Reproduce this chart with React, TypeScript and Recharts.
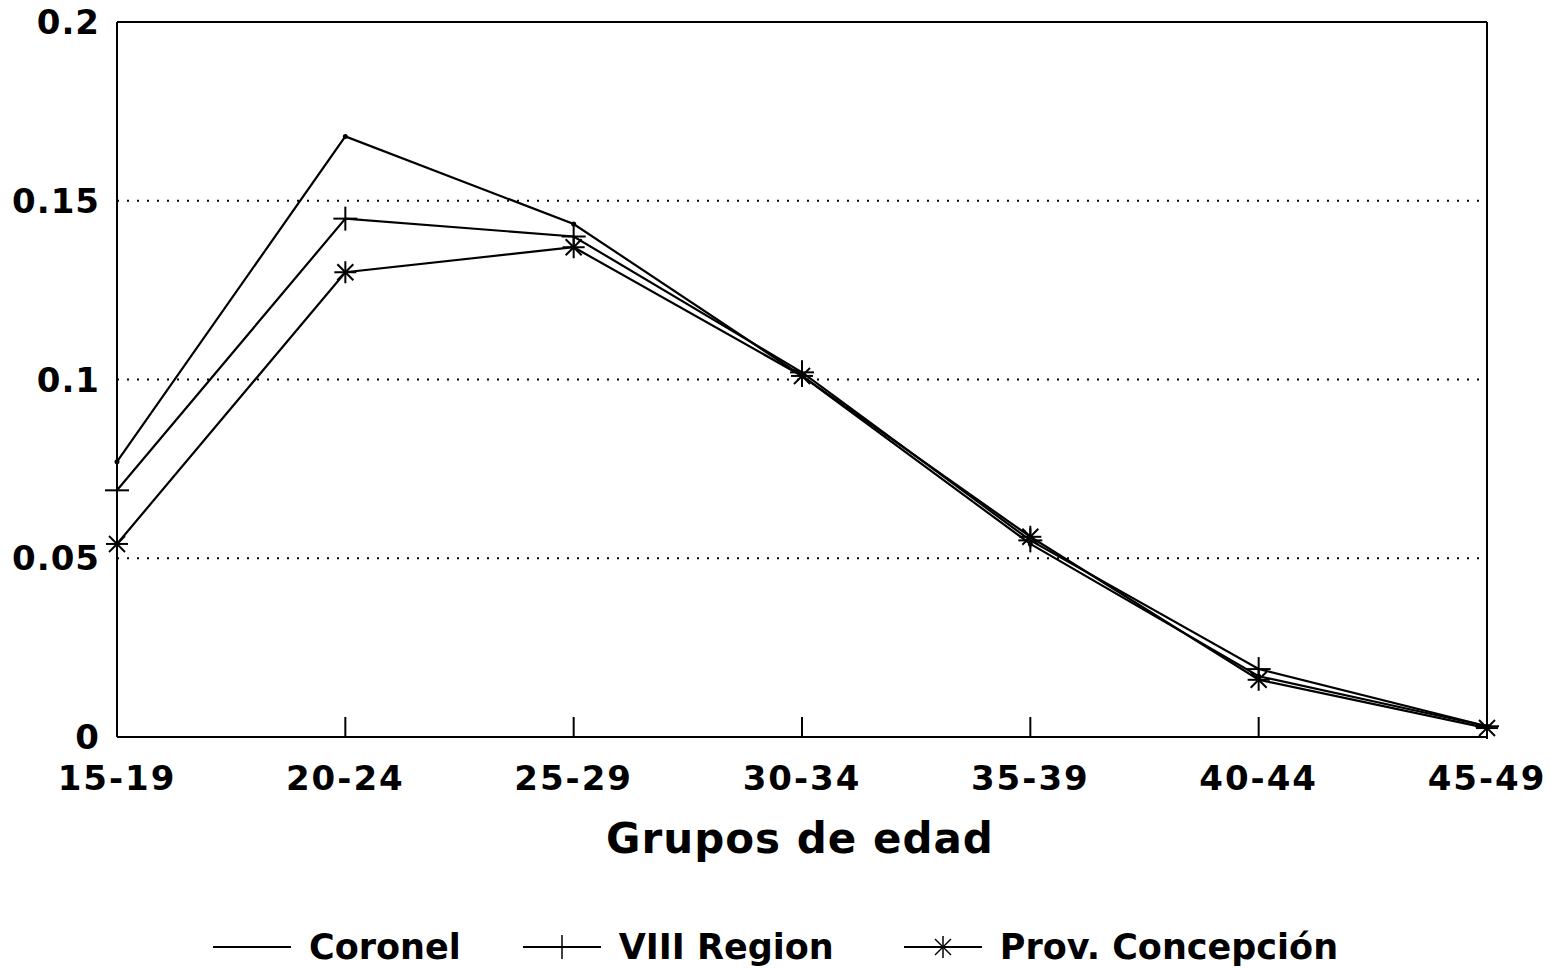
import React from 'react';
import { LineChart, Line, XAxis, YAxis, CartesianGrid, ReferenceLine } from 'recharts';

const categories = ['15-19', '20-24', '25-29', '30-34', '35-39', '40-44', '45-49'];
const coronel = [0.077, 0.168, 0.1435, 0.101, 0.054, 0.017, 0.003];
const viiiRegion = [0.069, 0.145, 0.14, 0.102, 0.055, 0.019, 0.003];
const provConcepcion = [0.054, 0.13, 0.137, 0.101, 0.056, 0.016, 0.0025];
const yTicks = [0, 0.05, 0.1, 0.15, 0.2];

const data = categories.map((name, i) => ({
  name,
  coronel: coronel[i],
  viii: viiiRegion[i],
  prov: provConcepcion[i],
}));

const FONT = '"DejaVu Sans", sans-serif';
const PLOT_BOTTOM = 737;

const XTick = (props: any) => {
  const { x, payload } = props;
  return (
    <g>
      <line x1={x} x2={x} y1={PLOT_BOTTOM} y2={PLOT_BOTTOM - 20} stroke="#000" strokeWidth={2} />
      <text x={x} y={790} textAnchor="middle" fontFamily={FONT} fontWeight="bold" fontSize={34} letterSpacing={2} fill="#000">
        {payload.value}
      </text>
    </g>
  );
};

const YTick = (props: any) => {
  const { y, payload } = props;
  return (
    <text x={100} y={y + 12} textAnchor="end" fontFamily={FONT} fontWeight="bold" fontSize={34} letterSpacing={1} fill="#000">
      {String(payload.value)}
    </text>
  );
};

const PlainDot = (props: any) => {
  const { cx, cy } = props;
  return <circle key={`c-${cx}`} cx={cx} cy={cy} r={2.5} fill="#000" />;
};

const PlusDot = (props: any) => {
  const { cx, cy } = props;
  return (
    <g key={`p-${cx}`}>
      <line x1={cx - 12} x2={cx + 12} y1={cy} y2={cy} stroke="#000" strokeWidth={2} />
      <line x1={cx} x2={cx} y1={cy - 12} y2={cy + 12} stroke="#000" strokeWidth={2} />
    </g>
  );
};

const StarDot = (props: any) => {
  const { cx, cy } = props;
  return (
    <g key={`s-${cx}`}>
      <line x1={cx - 11} x2={cx + 11} y1={cy} y2={cy} stroke="#000" strokeWidth={2} />
      <line x1={cx} x2={cx} y1={cy - 11} y2={cy + 11} stroke="#000" strokeWidth={2} />
      <line x1={cx - 8} x2={cx + 8} y1={cy - 8} y2={cy + 8} stroke="#000" strokeWidth={2} />
      <line x1={cx - 8} x2={cx + 8} y1={cy + 8} y2={cy - 8} stroke="#000" strokeWidth={2} />
    </g>
  );
};

const LegendItem = ({ label, marker, gap }: { label: string; marker: string; gap: number }) => (
  <div style={{ display: 'flex', alignItems: 'center', marginRight: gap }}>
    <svg width={80} height={30}>
      <line x1={0} x2={78} y1={15} y2={15} stroke="#000" strokeWidth={2} />
      {marker === 'plus' && <line x1={39} x2={39} y1={3} y2={27} stroke="#000" strokeWidth={1.5} />}
      {marker === 'star' && (
        <g stroke="#000" strokeWidth={1.5}>
          <line x1={39} x2={39} y1={4} y2={26} />
          <line x1={31} x2={47} y1={7} y2={23} />
          <line x1={31} x2={47} y1={23} y2={7} />
        </g>
      )}
    </svg>
    <span style={{ marginLeft: 16, fontFamily: FONT, fontWeight: 'bold', fontSize: 35 }}>{label}</span>
  </div>
);

export default function App() {
  return (
    <div style={{ position: 'absolute', left: 0, top: 0, width: 1551, height: 969, background: '#fff' }}>
      <LineChart
        width={1551}
        height={969}
        data={data}
        margin={{ top: 22, right: 64, bottom: 172, left: 0 }}
      >
        <CartesianGrid vertical={false} stroke="#000" strokeWidth={2} strokeDasharray="2 8" />
        <XAxis
          dataKey="name"
          height={60}
          axisLine={{ stroke: '#000', strokeWidth: 2 }}
          tickLine={false}
          tick={<XTick />}
          interval={0}
          label={() => (
            <text
              x={800}
              y={853}
              textAnchor="middle"
              fontFamily={FONT}
              fontWeight="bold"
              fontSize={42}
              letterSpacing={1}
              fill="#000"
            >
              Grupos de edad
            </text>
          )}
        />
        <YAxis
          width={117}
          domain={[0, 0.2]}
          ticks={yTicks}
          axisLine={{ stroke: '#000', strokeWidth: 2 }}
          tickLine={false}
          tick={<YTick />}
        />
        <ReferenceLine y={0.2} stroke="#000" strokeWidth={2} />
        <ReferenceLine x="45-49" stroke="#000" strokeWidth={2} />
        <Line type="linear" dataKey="coronel" stroke="#000" strokeWidth={2.2} dot={PlainDot} isAnimationActive={false} />
        <Line type="linear" dataKey="viii" stroke="#000" strokeWidth={2.2} dot={PlusDot} isAnimationActive={false} />
        <Line type="linear" dataKey="prov" stroke="#000" strokeWidth={2.2} dot={StarDot} isAnimationActive={false} />
      </LineChart>
      <div style={{ position: 'absolute', left: 213, top: 927, display: 'flex', alignItems: 'center' }}>
        <LegendItem label="Coronel" marker="none" gap={62} />
        <LegendItem label="VIII Region" marker="plus" gap={70} />
        <LegendItem label="Prov. Concepción" marker="star" gap={0} />
      </div>
    </div>
  );
}
